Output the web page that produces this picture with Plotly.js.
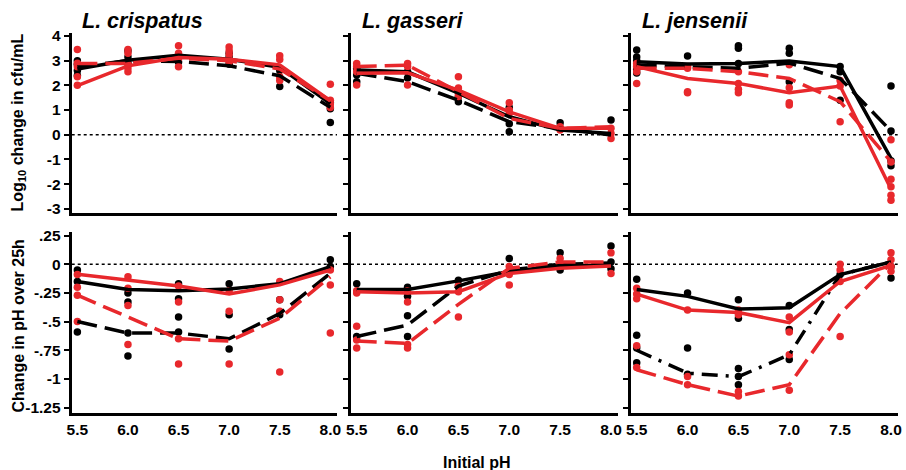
<!DOCTYPE html>
<html>
<head>
<meta charset="utf-8">
<script src="https://cdn.plot.ly/plotly-3.0.1.min.js"></script>
<style>html,body{margin:0;padding:0;background:#fff;}#chart{width:906px;height:470px;}</style>
</head>
<body>
<div id="chart"></div>
<script>
// ---------------- DATA ----------------
const pH = [5.5, 6.0, 6.5, 7.0, 7.5, 8.0];
const pHLabels = ["5.5", "6.0", "6.5", "7.0", "7.5", "8.0"];
const speciesNames = ["L. crispatus", "L. gasseri", "L. jensenii"];

const cfuTicks = [4, 3, 2, 1, 0, -1, -2, -3];
const cfuTickText = ["4", "3", "2", "1", "0", "-1", "-2", "-3"];
const dpHTicks = [0.25, 0, -0.25, -0.5, -0.75, -1, -1.25];
const dpHTickText = [".25", "0", "-.25", "-.5", "-.75", "-1", "-1.25"];

// Log10 change in cfu/mL (means)
const crispCfuBlackSolid  = [2.66, 3.02, 3.22, 3.06, 2.73, 1.26];
const crispCfuBlackDashed = [2.75, 3.00, 2.97, 2.79, 2.39, 1.11];
const crispCfuRedSolid    = [1.99, 2.79, 3.13, 3.06, 2.83, 1.38];
const crispCfuRedDashed   = [2.89, 2.89, 3.10, 3.00, 2.66, 1.38];
const crispCfuBlackDots = [[2.4, 2.6, 2.85, 3.0], [2.9, 3.15, 3.4], [2.95, 3.2], [2.85, 3.15, 3.3], [1.95, 2.6], [0.5, 1.05, 1.3]];
const crispCfuRedDots   = [[2.0, 2.35, 2.75, 2.9, 3.45], [2.55, 2.7, 2.85, 3.3, 3.45], [2.75, 3.1, 3.3, 3.6], [2.95, 3.05, 3.25, 3.4, 3.55], [2.2, 2.35, 3.05, 3.2], [1.1, 1.25, 1.4, 2.05]];

const gassCfuBlackSolid  = [2.62, 2.55, 1.68, 0.73, 0.19, 0.05];
const gassCfuBlackDashed = [2.49, 2.15, 1.40, 0.53, 0.26, -0.01];
const gassCfuRedSolid    = [2.49, 2.51, 1.81, 0.93, 0.26, 0.26];
const gassCfuRedDashed   = [2.76, 2.82, 1.74, 0.66, 0.26, 0.32];
const gassCfuBlackDots = [[2.15, 2.42, 2.69], [2.3, 2.55], [1.55, 1.34], [0.12, 0.45, 1.1], [0.49], [0.6]];
const gassCfuRedDots   = [[2.01, 2.55, 2.76, 2.89], [2.01, 2.76, 2.89], [1.55, 1.68, 1.89, 2.35], [0.87, 1.0, 1.3], [0.19, 0.26, 0.32], [-0.15, 0.05, 0.26]];

const jensCfuBlackSolid  = [2.96, 2.86, 2.89, 2.99, 2.76, -0.96];
const jensCfuBlackDashed = [2.82, 2.76, 2.69, 2.90, 2.28, 0.15];
const jensCfuRedSolid    = [2.76, 2.28, 2.08, 1.70, 1.97, -2.20];
const jensCfuRedDashed   = [2.69, 2.69, 2.55, 2.28, 1.34, -1.09];
const jensCfuBlackDots = [[2.5, 2.65, 3.0, 3.15, 3.43], [3.19], [2.89, 3.5, 3.6], [2.15, 3.3, 3.5], [1.4, 2.55, 2.76], [-1.25, -1.05, 0.15, 1.97]];
const jensCfuRedDots   = [[2.08, 2.55, 2.76, 2.89], [1.7, 1.74, 2.69, 2.76], [1.7, 1.84, 2.08, 2.55], [1.2, 1.3, 1.9, 2.83], [0.53, 1.97, 2.2], [-2.65, -2.45, -2.1, -1.8, -1.1, -0.2]];

// Change in pH over 25h (means)
const crispDpHBlackSolid  = [-0.15, -0.22, -0.23, -0.215, -0.17, -0.02];
const crispDpHBlackDashed = [-0.50, -0.60, -0.60, -0.65, -0.43, -0.08];
const crispDpHRedSolid    = [-0.087, -0.137, -0.19, -0.26, -0.18, -0.05];
const crispDpHRedDashed   = [-0.27, -0.46, -0.65, -0.67, -0.47, -0.11];
const crispDpHBlackDots = [[-0.05, -0.15, -0.59], [-0.25, -0.33, -0.6, -0.8], [-0.17, -0.3, -0.46, -0.59], [-0.17, -0.44, -0.74], [-0.31, -0.44], [0.04, -0.02]];
const crispDpHRedDots   = [[-0.09, -0.2, -0.27, -0.5], [-0.11, -0.21, -0.36, -0.7], [-0.19, -0.33, -0.65, -0.87], [-0.23, -0.41, -0.87], [-0.15, -0.31, -0.41, -0.94], [-0.05, -0.18, -0.6]];

const gassDpHBlackSolid  = [-0.22, -0.22, -0.145, -0.064, -0.01, -0.01];
const gassDpHBlackDashed = [-0.63, -0.53, -0.19, -0.05, 0.00, 0.01];
const gassDpHRedSolid    = [-0.24, -0.25, -0.24, -0.08, -0.035, -0.015];
const gassDpHRedDashed   = [-0.67, -0.69, -0.35, -0.035, 0.02, 0.02];
const gassDpHBlackDots = [[-0.17, -0.63], [-0.2, -0.28, -0.45, -0.63], [-0.14, -0.19], [0.05], [0.1, -0.05], [0.16, 0.02, -0.04]];
const gassDpHRedDots   = [[-0.23, -0.25, -0.54, -0.66, -0.73], [-0.23, -0.33, -0.7, -0.73], [-0.19, -0.24, -0.46], [-0.02, -0.09, -0.18], [0.05, 0.0], [0.1, -0.08]];

const jensDpHBlackSolid  = [-0.22, -0.28, -0.39, -0.38, -0.09, 0.02];
const jensDpHBlackDashed = [-0.75, -0.95, -0.98, -0.79, -0.09, 0.02];
const jensDpHRedSolid    = [-0.26, -0.40, -0.42, -0.51, -0.15, -0.01];
const jensDpHRedDashed   = [-0.92, -1.05, -1.15, -1.05, -0.43, 0.01];
const jensDpHBlackDots = [[-0.13, -0.62, -0.73, -0.86], [-0.25, -0.73, -0.96], [-0.31, -0.47, -0.91, -0.98, -1.05], [-0.36, -0.57, -0.83], [-0.09], [-0.12, -0.02]];
const jensDpHRedDots   = [[-0.21, -0.26, -0.3, -0.71, -0.9], [-0.4, -0.98, -1.05], [-0.4, -0.44, -1.11, -1.15], [-0.46, -0.59, -0.79, -1.1], [0.0, -0.05, -0.15, -0.63], [0.1, 0.04, -0.02, -0.06]];

// ---------------- STYLE / BUILD ----------------
const BLACK = '#000000';
const RED = '#e8282c';
const FONT = 'Liberation Sans, Arial, sans-serif';

const panels = [
  {ax: '', lines: [crispCfuBlackSolid, crispCfuBlackDashed, crispCfuRedSolid, crispCfuRedDashed], dots: [crispCfuBlackDots, crispCfuRedDots]},
  {ax: '2', lines: [gassCfuBlackSolid, gassCfuBlackDashed, gassCfuRedSolid, gassCfuRedDashed], dots: [gassCfuBlackDots, gassCfuRedDots]},
  {ax: '3', lines: [jensCfuBlackSolid, jensCfuBlackDashed, jensCfuRedSolid, jensCfuRedDashed], dots: [jensCfuBlackDots, jensCfuRedDots]},
  {ax: '4', lines: [crispDpHBlackSolid, crispDpHBlackDashed, crispDpHRedSolid, crispDpHRedDashed], dots: [crispDpHBlackDots, crispDpHRedDots]},
  {ax: '5', lines: [gassDpHBlackSolid, gassDpHBlackDashed, gassDpHRedSolid, gassDpHRedDashed], dots: [gassDpHBlackDots, gassDpHRedDots]},
  {ax: '6', lines: [jensDpHBlackSolid, jensDpHBlackDashed, jensDpHRedSolid, jensDpHRedDashed], dots: [jensDpHBlackDots, jensDpHRedDots], dashDot: true}
];

const traces = [];
panels.forEach(function (p) {
  const xa = 'x' + p.ax, ya = 'y' + p.ax;
  [BLACK, RED].forEach(function (col, k) {
    const xs = [], ys = [];
    p.dots[k].forEach(function (vals, i) { vals.forEach(function (v) { xs.push(pH[i]); ys.push(v); }); });
    traces.push({x: xs, y: ys, xaxis: xa, yaxis: ya, type: 'scatter', mode: 'markers',
      marker: {color: col, size: 7.5}, hoverinfo: 'skip', showlegend: false, cliponaxis: false});
  });
  const styles = [
    {color: BLACK, dash: 'solid'},
    {color: BLACK, dash: p.dashDot ? '16px,8px,3px,8px' : '20px,8px'},
    {color: RED, dash: 'solid'},
    {color: RED, dash: '20px,8px'}
  ];
  p.lines.forEach(function (vals, j) {
    traces.push({x: pH, y: vals, xaxis: xa, yaxis: ya, type: 'scatter', mode: 'lines',
      line: {color: styles[j].color, width: 3.5, dash: styles[j].dash}, hoverinfo: 'skip', showlegend: false});
  });
});

const W = 906, H = 470;
const xDomPx = [[71.7, 337], [351, 617.7], [631, 897.7]];
const yDomPx = [[33, 213.3], [231.7, 413.3]];
function xd(i) { return [xDomPx[i][0] / W, xDomPx[i][1] / W]; }
function yd(i) { return [1 - yDomPx[i][1] / H, 1 - yDomPx[i][0] / H]; }

const tickFont = {family: FONT, size: 15.5, color: '#000', weight: 'bold'};
const layout = {
  width: W, height: H,
  margin: {l: 0, r: 0, t: 0, b: 0},
  paper_bgcolor: '#fff', plot_bgcolor: 'rgba(0,0,0,0)',
  font: {family: FONT, color: '#000'},
  showlegend: false,
  shapes: [], annotations: []
};
for (let i = 0; i < 6; i++) {
  const col = i % 3, row = Math.floor(i / 3);
  const s = i === 0 ? '' : String(i + 1);
  layout['xaxis' + s] = {
    domain: xd(col), anchor: 'y' + s, range: [5.444, 8.066],
    showgrid: false, zeroline: false, showline: true, linecolor: '#000', linewidth: 3,
    ticks: '', tickvals: pH, ticktext: pHLabels, showticklabels: row === 1,
    tickfont: tickFont, fixedrange: true
  };
  layout['yaxis' + s] = {
    domain: yd(row), anchor: 'x' + s,
    range: row === 0 ? [-3.18, 4.12] : [-1.30, 0.284],
    tickvals: row === 0 ? cfuTicks : dpHTicks,
    ticktext: row === 0 ? cfuTickText : dpHTickText,
    showgrid: false, zeroline: false, showline: true, linecolor: '#000', linewidth: 3,
    ticks: 'outside', ticklen: 5, tickwidth: 2, tickcolor: '#000',
    showticklabels: col === 0, tickfont: tickFont, fixedrange: true
  };
  layout.shapes.push({type: 'line', xref: 'x' + s + ' domain', yref: 'y' + s, x0: 0, x1: 1, y0: 0, y1: 0,
    line: {color: '#000', width: 1.5, dash: 'dot'}, layer: 'below'});
}
const titleX = [80, 360, 640];
speciesNames.forEach(function (n, i) {
  layout.annotations.push({text: '<b><i>' + n + '</i></b>', xref: 'paper', yref: 'paper',
    x: titleX[i] / W, y: 1 - 21 / H, xanchor: 'left', yanchor: 'middle', showarrow: false,
    font: {family: FONT, size: 21.5, color: '#000'}});
});
layout.annotations.push({text: '<b>Log<sub>10</sub> change in cfu/mL</b>', xref: 'paper', yref: 'paper',
  x: 17.5 / W, y: 1 - 123 / H, xanchor: 'center', yanchor: 'middle', textangle: -90, showarrow: false,
  font: {family: FONT, size: 16, color: '#000'}});
layout.annotations.push({text: '<b>Change in pH over 25h</b>', xref: 'paper', yref: 'paper',
  x: 17.5 / W, y: 1 - 326 / H, xanchor: 'center', yanchor: 'middle', textangle: -90, showarrow: false,
  font: {family: FONT, size: 16, color: '#000'}});
layout.annotations.push({text: '<b>Initial pH</b>', xref: 'paper', yref: 'paper',
  x: 477 / W, y: 1 - 462 / H, xanchor: 'center', yanchor: 'middle', showarrow: false,
  font: {family: FONT, size: 16, color: '#000'}});

Plotly.newPlot('chart', traces, layout, {displayModeBar: false, staticPlot: true});
</script>
</body>
</html>
